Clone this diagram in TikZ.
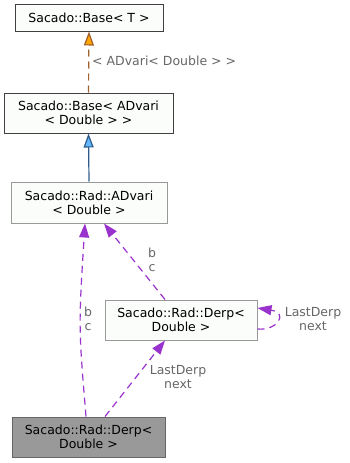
\documentclass[tikz,border=0pt]{standalone}
\usepackage{fontspec}
\setmainfont{DejaVu Sans}
\usetikzlibrary{arrows.meta,calc}
\definecolor{boxedge}{HTML}{404040}
\definecolor{boxlight}{HTML}{999999}
\definecolor{boxfill}{HTML}{FBFDFB}
\definecolor{selffill}{HTML}{999999}
\definecolor{selfedge}{HTML}{666666}
\definecolor{inhline}{HTML}{2E5C8A}
\definecolor{inhhead}{HTML}{63B8FF}
\definecolor{tplline}{HTML}{A0602D}
\definecolor{tplhead}{HTML}{FFA500}
\definecolor{usecolor}{HTML}{9A32CD}
\definecolor{labelgray}{HTML}{666666}

\tikzset{
  cls/.style={draw=boxedge, fill=boxfill, line width=1pt, align=center, inner sep=0pt,
    font=\fontsize{12.5}{14}\selectfont},
  inherit/.style={draw=inhline, line width=1.2pt, -{Triangle[length=14pt,width=10pt,fill=inhhead]}},
  tmpl/.style={draw=tplline, line width=1.2pt, dash pattern=on 7pt off 5pt,
    -{Triangle[length=14pt,width=10pt,fill=tplhead]}},
  uses/.style={draw=usecolor, line width=1.2pt, dash pattern=on 7pt off 5pt,
    -{Triangle[length=14pt,width=10pt,fill=usecolor]}},
  elabel/.style={text=labelgray, align=center, inner sep=0pt, font=\fontsize{12.5}{14}\selectfont}
}

\begin{document}
\begin{tikzpicture}[x=1pt,y=-1pt]
\useasboundingbox (0,0) rectangle (349,463);

\node[cls, minimum width=148pt, minimum height=27pt] (base) at (89,17.5) {Sacado::Base< T >};
\node[cls, minimum width=169pt, minimum height=40pt] (baseadv) at (88.5,113) {Sacado::Base< ADvari\\< Double > >};
\node[cls, draw=boxlight, minimum width=156pt, minimum height=41pt] (advari) at (89,202.5) {Sacado::Rad::ADvari\\< Double >};
\node[cls, draw=boxlight, minimum width=152pt, minimum height=40pt] (derp) at (181,320) {Sacado::Rad::Derp<\\Double >};
\node[cls, draw=selfedge, fill=selffill, minimum width=153pt, minimum height=40pt] (derpself) at (88.5,437) {Sacado::Rad::Derp<\\Double >};

% inheritance and template instance
\draw[tmpl] (baseadv.north) -- (base.south);
\node[elabel, anchor=west] (tlabel) at (92,61) {< ADvari< Double > >};
\draw[inherit] (advari.north) -- (baseadv.south);

% member usage
\draw[uses] ([xshift=-2.5pt]derpself.north) .. controls ([xshift=-10pt,yshift=90pt]derpself.north) .. ([xshift=-4pt]advari.south);
\node[elabel] (lbc) at (88,319) {b\\c};
\draw[uses] ([xshift=-16pt]derp.north) -- ([xshift=15pt]advari.south);
\node[elabel] (rbc) at (152,260) {b\\c};
\draw[uses] ([xshift=16.5pt]derpself.north) -- ([xshift=-16pt]derp.south);
\node[elabel] (lnext) at (178,377) {LastDerp\\next};
\draw[uses] ([yshift=-9pt]derp.east) .. controls (277,331) and (289,313) .. ([yshift=12pt]derp.east);
\node[elabel] (rnext) at (313,319) {LastDerp\\next};
\end{tikzpicture}
\end{document}
